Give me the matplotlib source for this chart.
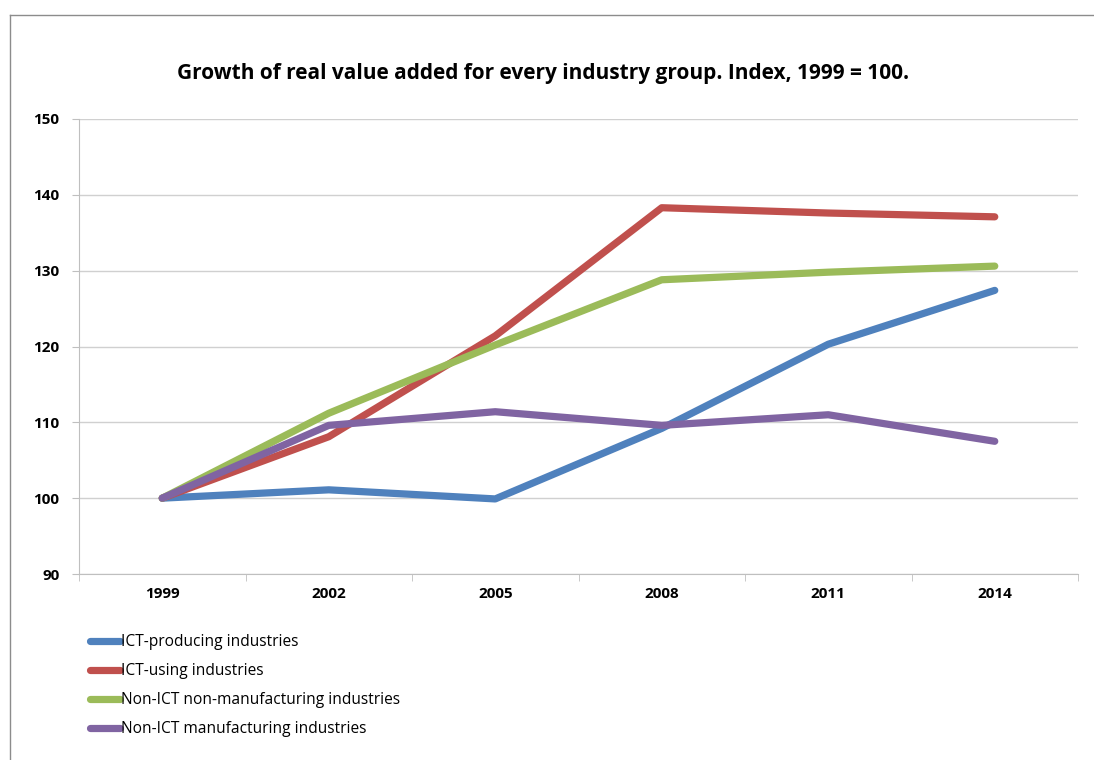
import matplotlib
matplotlib.use("Agg")
import matplotlib.pyplot as plt
from matplotlib.lines import Line2D
import numpy as np

years = ["1999", "2002", "2005", "2008", "2011", "2014"]
ict_producing = [100.0, 101.1, 99.9, 109.2, 120.3, 127.4]
ict_using = [100.0, 108.1, 121.4, 138.3, 137.6, 137.1]
non_ict_non_manuf = [100.0, 111.2, 120.2, 128.8, 129.8, 130.6]
non_ict_manuf = [100.0, 109.6, 111.4, 109.6, 111.0, 107.5]

series_names = [
    "ICT-producing industries",
    "ICT-using industries",
    "Non-ICT non-manufacturing industries",
    "Non-ICT manufacturing industries",
]
series_colors = ["#4F81BD", "#C0504D", "#9BBB59", "#8064A2"]
y_ticks = [90, 100, 110, 120, 130, 140, 150]

plt.rcParams["font.family"] = ["Open Sans", "DejaVu Sans"]

W, H = 1094, 760
fig = plt.figure(figsize=(W / 100, H / 100), dpi=100)

# outer chart frame (left and top edges)
fy = 1 - 14.5 / H
fx = 9.5 / W
fig.add_artist(Line2D([fx, fx], [-0.05, fy], transform=fig.transFigure,
                      color="#8C8C8C", linewidth=1.0))
fig.add_artist(Line2D([fx, 1.05], [fy, fy], transform=fig.transFigure,
                      color="#8C8C8C", linewidth=1.0))

ax = fig.add_axes([79 / W, 1 - 574 / H, (1078 - 79) / W, (574 - 119) / H])
x = np.arange(len(years))
all_series = [ict_producing, ict_using, non_ict_non_manuf, non_ict_manuf]
lines = []
for vals, name, col in zip(all_series, series_names, series_colors):
    ln, = ax.plot(x, vals, color=col, linewidth=5.2, solid_capstyle="round",
                  solid_joinstyle="round", label=name, zorder=3)
    lines.append(ln)

ax.set_xlim(-0.5, len(years) - 0.5)
ax.set_ylim(90, 150)
ax.set_yticks(y_ticks)
ax.set_yticklabels([str(v) for v in y_ticks], fontweight="bold", fontsize=11)
ax.yaxis.grid(True, color="#D0D0D0", linewidth=1.0)
ax.set_axisbelow(True)

ax.set_xticks(x)
ax.set_xticklabels(years, fontweight="bold", fontsize=11)
ax.tick_params(axis="x", length=0, pad=9)
ax.set_xticks(np.arange(-0.5, len(years), 1.0), minor=True)
ax.tick_params(axis="x", which="minor", length=5, color="#BFBFBF", direction="out")
ax.tick_params(axis="y", length=5, color="#BFBFBF", direction="out", pad=9)

for side in ["top", "right"]:
    ax.spines[side].set_visible(False)
ax.spines["left"].set_color("#BFBFBF")
ax.spines["bottom"].set_color("#BFBFBF")

fig.text(543 / W, 1 - 73 / H,
         "Growth of real value added for every industry group. Index, 1999 = 100.",
         ha="center", va="center", fontsize=15.0, fontweight="bold")

leg = fig.legend(handles=lines, loc="upper left",
                 bbox_to_anchor=(90 / W, 1 - 634 / H), frameon=False,
                 fontsize=11.2, handlelength=1.9, handletextpad=0.1,
                 labelspacing=0.84, borderaxespad=0, borderpad=0)
for hl in leg.get_lines():
    hl.set_solid_capstyle("round")

fig.savefig("out.png", dpi=100)
